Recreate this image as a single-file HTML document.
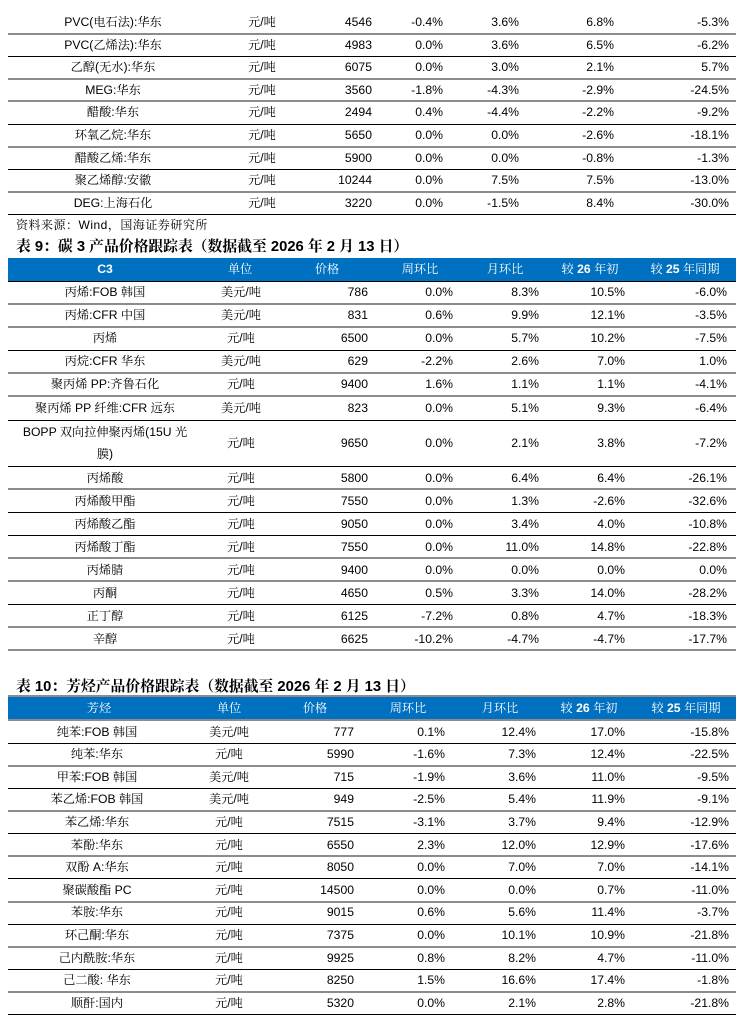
<!DOCTYPE html>
<html><head><meta charset="utf-8">
<style>
html,body{margin:0;padding:0}
body{width:747px;height:1029px;background:#fff;position:relative;overflow:hidden;font-family:"Liberation Sans","Noto Serif CJK SC",serif;color:#000}
.r{position:absolute;left:0;width:747px;font-size:12.2px}
.r span{position:absolute;top:0;white-space:nowrap}
.L{position:absolute;left:8px;width:728px;height:1px;background:#000}
.G{position:absolute;left:8px;width:728px;height:2px;background:#8c8c8c}
.hd{position:absolute;left:8px;width:728px;background:#0070C0;color:#fff;font-size:12.2px}
.hd span{position:absolute;top:0;width:100px;text-align:center;white-space:nowrap}
.t1{height:22.6px;line-height:22.6px}
.t1 .n{left:8px;width:210px;text-align:center}
.t1 .u{left:212px;width:100px;text-align:center}
.t1 .p{right:375px}.t1 .a{right:304px}.t1 .b{right:228px}.t1 .x{right:133px}.t1 .d{right:18px}
.t9{height:23.1px;line-height:23.1px}
.t9 .n{left:8px;width:194px;text-align:center}
.t9 .u{left:191px;width:100px;text-align:center}
.t9 .p{right:379px}.t9 .a{right:294px}.t9 .b{right:208px}.t9 .x{right:122px}.t9 .d{right:20px}
.t10{height:22.6px;line-height:22.6px}
.t10 .n{left:8px;width:178px;text-align:center}
.t10 .u{left:179px;width:100px;text-align:center}
.t10 .p{right:393px}.t10 .a{right:302px}.t10 .b{right:211px}.t10 .x{right:122px}.t10 .d{right:18px}
.ttl{position:absolute;left:16px;font-size:14.8px;font-weight:bold;white-space:nowrap;height:18px;line-height:18px}
.src{position:absolute;left:16px;font-size:12px;letter-spacing:0.5px;white-space:nowrap;height:16px;line-height:16px}
</style></head><body>

<!-- Table 1 (continued) -->
<div class="r t1" style="top:11px"><span class="n">PVC(电石法):华东</span><span class="u">元/吨</span><span class="p">4546</span><span class="a">-0.4%</span><span class="b">3.6%</span><span class="x">6.8%</span><span class="d">-5.3%</span></div>
<div class="r t1" style="top:33.6px"><span class="n">PVC(乙烯法):华东</span><span class="u">元/吨</span><span class="p">4983</span><span class="a">0.0%</span><span class="b">3.6%</span><span class="x">6.5%</span><span class="d">-6.2%</span></div>
<div class="r t1" style="top:56.2px"><span class="n">乙醇(无水):华东</span><span class="u">元/吨</span><span class="p">6075</span><span class="a">0.0%</span><span class="b">3.0%</span><span class="x">2.1%</span><span class="d">5.7%</span></div>
<div class="r t1" style="top:78.8px"><span class="n">MEG:华东</span><span class="u">元/吨</span><span class="p">3560</span><span class="a">-1.8%</span><span class="b">-4.3%</span><span class="x">-2.9%</span><span class="d">-24.5%</span></div>
<div class="r t1" style="top:101.4px"><span class="n">醋酸:华东</span><span class="u">元/吨</span><span class="p">2494</span><span class="a">0.4%</span><span class="b">-4.4%</span><span class="x">-2.2%</span><span class="d">-9.2%</span></div>
<div class="r t1" style="top:124px"><span class="n">环氧乙烷:华东</span><span class="u">元/吨</span><span class="p">5650</span><span class="a">0.0%</span><span class="b">0.0%</span><span class="x">-2.6%</span><span class="d">-18.1%</span></div>
<div class="r t1" style="top:146.6px"><span class="n">醋酸乙烯:华东</span><span class="u">元/吨</span><span class="p">5900</span><span class="a">0.0%</span><span class="b">0.0%</span><span class="x">-0.8%</span><span class="d">-1.3%</span></div>
<div class="r t1" style="top:169.2px"><span class="n">聚乙烯醇:安徽</span><span class="u">元/吨</span><span class="p">10244</span><span class="a">0.0%</span><span class="b">7.5%</span><span class="x">7.5%</span><span class="d">-13.0%</span></div>
<div class="r t1" style="top:191.8px"><span class="n">DEG:上海石化</span><span class="u">元/吨</span><span class="p">3220</span><span class="a">0.0%</span><span class="b">-1.5%</span><span class="x">8.4%</span><span class="d">-30.0%</span></div>
<div class="G" style="top:33px"></div>
<div class="L" style="top:56px"></div>
<div class="G" style="top:78px"></div>
<div class="G" style="top:100px"></div>
<div class="L" style="top:124px"></div>
<div class="G" style="top:146px"></div>
<div class="L" style="top:169px"></div>
<div class="G" style="top:191px"></div>
<div class="L" style="top:214px"></div>

<div class="src" style="top:217px">资料来源：Wind，国海证券研究所</div>
<div class="ttl" style="top:238px">表 9：碳 3 产品价格跟踪表（数据截至 2026 年 2 月 13 日）</div>

<!-- Table 9 -->
<div class="hd" style="top:258px;height:23px;line-height:23px">
<span style="left:47px"><b>C3</b></span>
<span style="left:182px">单位</span>
<span style="left:269px">价格</span>
<span style="left:362px">周环比</span>
<span style="left:447px">月环比</span>
<span style="left:532px">较 <b>26</b> 年初</span>
<span style="left:627px">较 <b>25</b> 年同期</span>
</div>
<div class="L" style="top:281px"></div>

<div class="r t9" style="top:281px"><span class="n">丙烯:FOB 韩国</span><span class="u">美元/吨</span><span class="p">786</span><span class="a">0.0%</span><span class="b">8.3%</span><span class="x">10.5%</span><span class="d">-6.0%</span></div>
<div class="r t9" style="top:304.1px"><span class="n">丙烯:CFR 中国</span><span class="u">美元/吨</span><span class="p">831</span><span class="a">0.6%</span><span class="b">9.9%</span><span class="x">12.1%</span><span class="d">-3.5%</span></div>
<div class="r t9" style="top:327.2px"><span class="n">丙烯</span><span class="u">元/吨</span><span class="p">6500</span><span class="a">0.0%</span><span class="b">5.7%</span><span class="x">10.2%</span><span class="d">-7.5%</span></div>
<div class="r t9" style="top:350.3px"><span class="n">丙烷:CFR 华东</span><span class="u">美元/吨</span><span class="p">629</span><span class="a">-2.2%</span><span class="b">2.6%</span><span class="x">7.0%</span><span class="d">1.0%</span></div>
<div class="r t9" style="top:373.4px"><span class="n">聚丙烯 PP:齐鲁石化</span><span class="u">元/吨</span><span class="p">9400</span><span class="a">1.6%</span><span class="b">1.1%</span><span class="x">1.1%</span><span class="d">-4.1%</span></div>
<div class="r t9" style="top:396.5px"><span class="n">聚丙烯 PP 纤维:CFR 远东</span><span class="u">美元/吨</span><span class="p">823</span><span class="a">0.0%</span><span class="b">5.1%</span><span class="x">9.3%</span><span class="d">-6.4%</span></div>
<div class="r t9" style="top:419.6px;height:46.9px;line-height:46.9px"><span class="n" style="line-height:22px;top:1.5px">BOPP 双向拉伸聚丙烯(15U 光<br>膜)</span><span class="u">元/吨</span><span class="p">9650</span><span class="a">0.0%</span><span class="b">2.1%</span><span class="x">3.8%</span><span class="d">-7.2%</span></div>
<div class="r t9" style="top:466.5px"><span class="n">丙烯酸</span><span class="u">元/吨</span><span class="p">5800</span><span class="a">0.0%</span><span class="b">6.4%</span><span class="x">6.4%</span><span class="d">-26.1%</span></div>
<div class="r t9" style="top:489.5px"><span class="n">丙烯酸甲酯</span><span class="u">元/吨</span><span class="p">7550</span><span class="a">0.0%</span><span class="b">1.3%</span><span class="x">-2.6%</span><span class="d">-32.6%</span></div>
<div class="r t9" style="top:512.6px"><span class="n">丙烯酸乙酯</span><span class="u">元/吨</span><span class="p">9050</span><span class="a">0.0%</span><span class="b">3.4%</span><span class="x">4.0%</span><span class="d">-10.8%</span></div>
<div class="r t9" style="top:535.6px"><span class="n">丙烯酸丁酯</span><span class="u">元/吨</span><span class="p">7550</span><span class="a">0.0%</span><span class="b">11.0%</span><span class="x">14.8%</span><span class="d">-22.8%</span></div>
<div class="r t9" style="top:558.7px"><span class="n">丙烯腈</span><span class="u">元/吨</span><span class="p">9400</span><span class="a">0.0%</span><span class="b">0.0%</span><span class="x">0.0%</span><span class="d">0.0%</span></div>
<div class="r t9" style="top:581.7px"><span class="n">丙酮</span><span class="u">元/吨</span><span class="p">4650</span><span class="a">0.5%</span><span class="b">3.3%</span><span class="x">14.0%</span><span class="d">-28.2%</span></div>
<div class="r t9" style="top:604.8px"><span class="n">正丁醇</span><span class="u">元/吨</span><span class="p">6125</span><span class="a">-7.2%</span><span class="b">0.8%</span><span class="x">4.7%</span><span class="d">-18.3%</span></div>
<div class="r t9" style="top:627.8px"><span class="n">辛醇</span><span class="u">元/吨</span><span class="p">6625</span><span class="a">-10.2%</span><span class="b">-4.7%</span><span class="x">-4.7%</span><span class="d">-17.7%</span></div>
<div class="G" style="top:303px"></div>
<div class="G" style="top:326px"></div>
<div class="L" style="top:350px"></div>
<div class="G" style="top:372px"></div>
<div class="G" style="top:395px"></div>
<div class="L" style="top:420px"></div>
<div class="L" style="top:466px"></div>
<div class="G" style="top:488px"></div>
<div class="L" style="top:512px"></div>
<div class="L" style="top:535px"></div>
<div class="G" style="top:557px"></div>
<div class="G" style="top:580px"></div>
<div class="L" style="top:604px"></div>
<div class="G" style="top:626px"></div>
<div class="G" style="top:649px"></div>

<div class="ttl" style="top:678px">表 10：芳烃产品价格跟踪表（数据截至 2026 年 2 月 13 日）</div>

<!-- Table 10 -->
<div class="G" style="top:695px"></div>
<div class="hd" style="top:697px;height:23px;line-height:23px">
<span style="left:41px">芳烃</span>
<span style="left:171px">单位</span>
<span style="left:257px">价格</span>
<span style="left:350px">周环比</span>
<span style="left:442px">月环比</span>
<span style="left:531px">较 <b>26</b> 年初</span>
<span style="left:628px">较 <b>25</b> 年同期</span>
</div>
<div class="G" style="top:719px"></div>

<div class="r t10" style="top:720.5px"><span class="n">纯苯:FOB 韩国</span><span class="u">美元/吨</span><span class="p">777</span><span class="a">0.1%</span><span class="b">12.4%</span><span class="x">17.0%</span><span class="d">-15.8%</span></div>
<div class="r t10" style="top:743.1px"><span class="n">纯苯:华东</span><span class="u">元/吨</span><span class="p">5990</span><span class="a">-1.6%</span><span class="b">7.3%</span><span class="x">12.4%</span><span class="d">-22.5%</span></div>
<div class="r t10" style="top:765.7px"><span class="n">甲苯:FOB 韩国</span><span class="u">美元/吨</span><span class="p">715</span><span class="a">-1.9%</span><span class="b">3.6%</span><span class="x">11.0%</span><span class="d">-9.5%</span></div>
<div class="r t10" style="top:788.3px"><span class="n">苯乙烯:FOB 韩国</span><span class="u">美元/吨</span><span class="p">949</span><span class="a">-2.5%</span><span class="b">5.4%</span><span class="x">11.9%</span><span class="d">-9.1%</span></div>
<div class="r t10" style="top:810.9px"><span class="n">苯乙烯:华东</span><span class="u">元/吨</span><span class="p">7515</span><span class="a">-3.1%</span><span class="b">3.7%</span><span class="x">9.4%</span><span class="d">-12.9%</span></div>
<div class="r t10" style="top:833.5px"><span class="n">苯酚:华东</span><span class="u">元/吨</span><span class="p">6550</span><span class="a">2.3%</span><span class="b">12.0%</span><span class="x">12.9%</span><span class="d">-17.6%</span></div>
<div class="r t10" style="top:856.1px"><span class="n">双酚 A:华东</span><span class="u">元/吨</span><span class="p">8050</span><span class="a">0.0%</span><span class="b">7.0%</span><span class="x">7.0%</span><span class="d">-14.1%</span></div>
<div class="r t10" style="top:878.7px"><span class="n">聚碳酸酯 PC</span><span class="u">元/吨</span><span class="p">14500</span><span class="a">0.0%</span><span class="b">0.0%</span><span class="x">0.7%</span><span class="d">-11.0%</span></div>
<div class="r t10" style="top:901.3px"><span class="n">苯胺:华东</span><span class="u">元/吨</span><span class="p">9015</span><span class="a">0.6%</span><span class="b">5.6%</span><span class="x">11.4%</span><span class="d">-3.7%</span></div>
<div class="r t10" style="top:923.9px"><span class="n">环己酮:华东</span><span class="u">元/吨</span><span class="p">7375</span><span class="a">0.0%</span><span class="b">10.1%</span><span class="x">10.9%</span><span class="d">-21.8%</span></div>
<div class="r t10" style="top:946.5px"><span class="n">己内酰胺:华东</span><span class="u">元/吨</span><span class="p">9925</span><span class="a">0.8%</span><span class="b">8.2%</span><span class="x">4.7%</span><span class="d">-11.0%</span></div>
<div class="r t10" style="top:969.1px"><span class="n">己二酸: 华东</span><span class="u">元/吨</span><span class="p">8250</span><span class="a">1.5%</span><span class="b">16.6%</span><span class="x">17.4%</span><span class="d">-1.8%</span></div>
<div class="r t10" style="top:991.7px"><span class="n">顺酐:国内</span><span class="u">元/吨</span><span class="p">5320</span><span class="a">0.0%</span><span class="b">2.1%</span><span class="x">2.8%</span><span class="d">-21.8%</span></div>
<div class="L" style="top:743px"></div>
<div class="G" style="top:765px"></div>
<div class="L" style="top:788px"></div>
<div class="G" style="top:810px"></div>
<div class="L" style="top:833px"></div>
<div class="G" style="top:855px"></div>
<div class="L" style="top:878px"></div>
<div class="G" style="top:901px"></div>
<div class="L" style="top:924px"></div>
<div class="G" style="top:946px"></div>
<div class="L" style="top:969px"></div>
<div class="G" style="top:991px"></div>
<div class="L" style="top:1014px"></div>

</body></html>
